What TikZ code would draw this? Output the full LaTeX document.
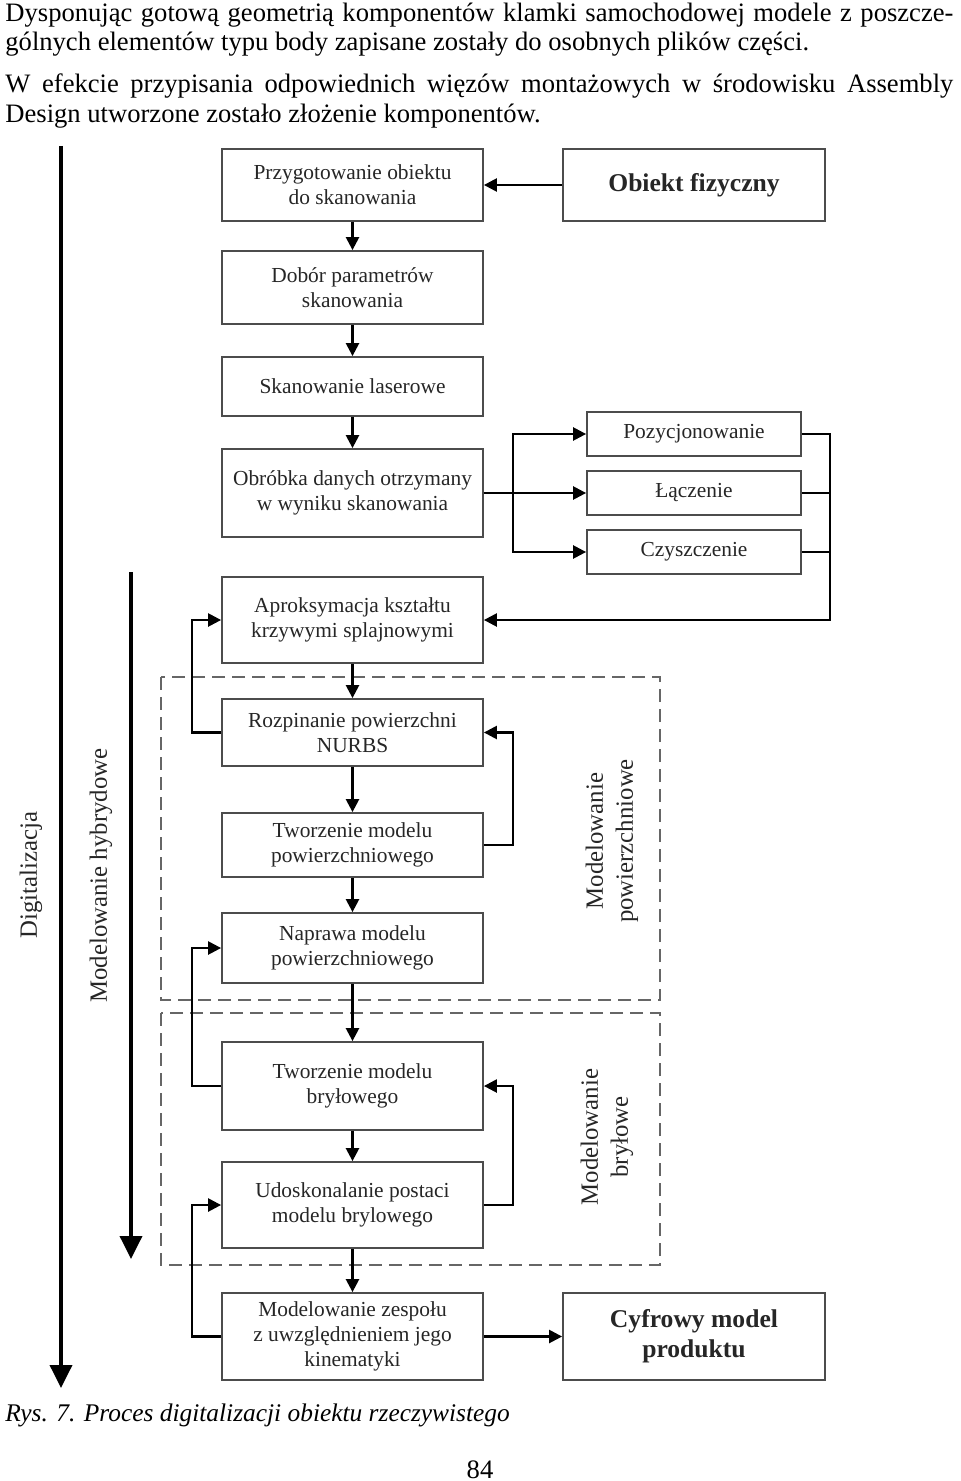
\documentclass[tikz,border=0pt]{standalone}
\usepackage{fontspec}
\setmainfont{Liberation Serif}
\usetikzlibrary{arrows.meta,shadows}
\begin{document}
\begin{tikzpicture}[x=0.5pt,y=-0.5pt,
  boxbase/.style={draw=black!70, line width=0.9pt, fill=white, align=center, inner sep=1pt,
    text=black!85, font=\fontsize{10.7}{12.5}\selectfont,
    drop shadow={shadow xshift=0.7pt, shadow yshift=-0.7pt, fill=black!30, opacity=0.8}},
  lbox/.style={boxbase, minimum width=130.5pt},
  rbox/.style={boxbase, minimum width=131pt, font=\bfseries\fontsize{12.8}{15}\selectfont},
  sbox/.style={boxbase, minimum width=107pt, minimum height=22pt},
  conn/.style={line width=1.2pt, -{Triangle[length=6.5pt,width=6.5pt]}},
  plain/.style={line width=1.2pt},
  bigarrow/.style={line width=1.8pt, -{Triangle[length=11.5pt,width=11pt]}},
  dashbox/.style={draw=black!60, line width=0.9pt, dash pattern=on 6.5pt off 3.5pt},
  sidelabel/.style={rotate=90, text=black!85, font=\fontsize{12.4}{15}\selectfont, align=center, inner sep=0pt},
  bodytext/.style={anchor=base west, inner sep=0pt, font=\fontsize{13.3}{14.5}\selectfont}
]
\useasboundingbox (0,0) rectangle (960,1481);

% top text
\node[bodytext] (t1) at (5,22) {\hbox to 474pt{Dysponując gotową geometrią komponentów klamki samochodowej modele z poszcze-}};
\node[bodytext] (t2) at (5,51) {gólnych elementów typu body zapisane zostały do osobnych plików części.};
\node[bodytext] (t3) at (5,93) {\hbox to 474pt{W efekcie przypisania odpowiednich więzów montażowych w środowisku Assembly}};
\node[bodytext] (t4) at (5,123) {Design utworzone zostało złożenie komponentów.};

% dashed groups
\draw[dashbox] (161,677) rectangle (660,1000);
\draw[dashbox] (161,1013) rectangle (660,1265);

% left column
\node[lbox, minimum height=36pt] (przyg) at (352.5,185) {Przygotowanie obiektu\\do skanowania};
\node[lbox, minimum height=36.5pt] (dobor) at (352.5,287.5) {Dobór parametrów\\skanowania};
\node[lbox, minimum height=29.5pt] (skan) at (352.5,386.5) {Skanowanie laserowe};
\node[lbox, minimum height=44pt] (obr) at (352.5,493) {Obróbka danych otrzymany\\w wyniku skanowania};
\node[lbox, minimum height=43pt] (aprox) at (352.5,620) {Aproksymacja kształtu\\krzywymi splajnowymi};
\node[lbox, minimum height=33.5pt] (rozp) at (352.5,732.5) {Rozpinanie powierzchni\\NURBS};
\node[lbox, minimum height=32pt] (tpow) at (352.5,845) {Tworzenie modelu\\powierzchniowego};
\node[lbox, minimum height=35pt] (napr) at (352.5,948) {Naprawa modelu\\powierzchniowego};
\node[lbox, minimum height=44pt] (tbryl) at (352.5,1086) {Tworzenie modelu\\bryłowego};
\node[lbox, minimum height=43pt] (udosk) at (352.5,1205) {Udoskonalanie postaci\\modelu brylowego};
\node[lbox, minimum height=43.5pt] (zesp) at (352.5,1336.5) {Modelowanie zespołu\\z uwzględnieniem jego\\kinematyki};

% right boxes
\node[rbox, minimum height=36pt] (obj) at (694,185) {Obiekt fizyczny};
\node[rbox, minimum height=43.5pt] (cyf) at (694,1336.5) {Cyfrowy model\\produktu};
\node[sbox] (poz) at (694,434) {Pozycjonowanie};
\node[sbox] (lacz) at (694,493) {Łączenie};
\node[sbox] (czy) at (694,552) {Czyszczenie};

% main flow
\draw[conn] (obj.west) -- (przyg.east);
\draw[conn] (przyg.south) -- (dobor.north);
\draw[conn] (dobor.south) -- (skan.north);
\draw[conn] (skan.south) -- (obr.north);
\draw[conn] (aprox.south) -- (rozp.north);
\draw[conn] (rozp.south) -- (tpow.north);
\draw[conn] (tpow.south) -- (napr.north);
\draw[conn] (napr.south) -- (tbryl.north);
\draw[conn] (tbryl.south) -- (udosk.north);
\draw[conn] (udosk.south) -- (zesp.north);
\draw[conn] (zesp.east) -- (cyf.west);

% processing branch
\draw[conn] (obr.east) -- ++(29,0) |- (poz.west);
\draw[conn] (obr.east) -- (lacz.west);
\draw[conn] (obr.east) -- ++(29,0) |- (czy.west);
\draw[plain] (lacz.east) -- ++(28,0);
\draw[plain] (czy.east) -- ++(28,0);
\draw[conn] (poz.east) -- ++(28,0) |- (aprox.east);

% feedback loops
\draw[conn] (rozp.west) -- ++(-29,0) |- (aprox.west);
\draw[conn] (tbryl.west) -- ++(-29,0) |- (napr.west);
\draw[conn] (zesp.west) -- ++(-29,0) |- (udosk.west);
\draw[conn] (tpow.east) -- ++(29,0) |- (rozp.east);
\draw[conn] (udosk.east) -- ++(29,0) |- (tbryl.east);

% side arrows
\coordinate (dtop) at (61,146);
\coordinate (dbot) at (61,1388);
\coordinate (htop) at (131,572);
\coordinate (hbot) at (131,1259);
\draw[bigarrow] (dtop) -- (dbot);
\draw[bigarrow] (htop) -- (hbot);

% labels
\node[sidelabel] (ldig) at (31,875) {Digitalizacja};
\node[sidelabel] (lhyb) at (101,875.5) {Modelowanie hybrydowe};
\node[sidelabel, font=\fontsize{12.4}{15}\selectfont] (lpow) at (612,841) {Modelowanie\\powierzchniowe};
\node[sidelabel, font=\fontsize{12.4}{15}\selectfont] (lbry) at (607,1137) {Modelowanie\\bryłowe};

% caption
\node[anchor=base west, inner sep=0pt, font=\itshape\fontsize{12.7}{15}\selectfont] (cap) at (5,1421) {Rys. 7. Proces digitalizacji obiektu rzeczywistego};
\node[anchor=base, inner sep=0pt, font=\fontsize{13.3}{15}\selectfont] (page) at (480,1478) {84};
\end{tikzpicture}
\end{document}
